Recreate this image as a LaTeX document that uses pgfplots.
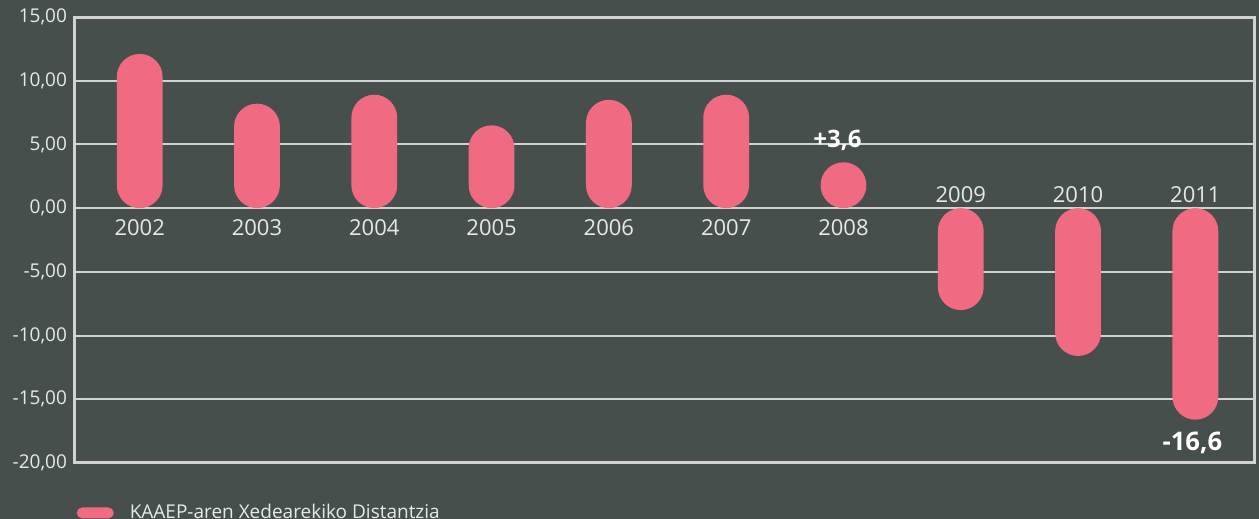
\documentclass[border=0pt]{standalone}
\usepackage{fontspec}
\setmainfont{Open Sans}
\usepackage{pgfplots}
\pgfplotsset{compat=1.18}
\definecolor{bgcol}{HTML}{474F4C}
\definecolor{barcol}{HTML}{F06B82}
\definecolor{gridcol}{HTML}{D2D2D2}
\definecolor{txtcol}{HTML}{E8E8E8}

\begin{document}
\begin{tikzpicture}
\fill[bgcol] (-37pt,-28pt) rectangle (592.5pt,231.5pt);
\useasboundingbox (-37pt,-28pt) rectangle (592.5pt,231.5pt);
\begin{axis}[
    at={(0,0)}, anchor=south west,
    scale only axis,
    width=590pt, height=223pt,
    xmin=2001.44, xmax=2011.5,
    ymin=-20, ymax=15,
    ytick={-20,-15,-10,-5,0,5,10,15},
    xtick=\empty,
    ymajorgrids=true,
    grid style={gridcol, line width=1pt},
    axis line style={gridcol, line width=1.5pt},
    major tick length=0pt,
    yticklabel style={text=txtcol, font=\fontsize{9.5}{11}\selectfont,
        /pgf/number format/.cd, fixed, fixed zerofill, precision=2, use comma,
        assume math mode=true},
    legend style={at={(axis description cs:0.002,-0.112)}, anchor=west,
        draw=none, fill=none, text=txtcol, font=\fontsize{9.5}{11}\selectfont,
        inner sep=0pt,
        /tikz/every odd column/.append style={column sep=6pt}},
    legend cell align=left,
]
\addplot[ybar, bar width=22.9pt, bar shift=0pt, fill=barcol, draw=none,
    rounded corners=11.45pt,
    legend image code/.code={\fill[barcol, rounded corners=2.75pt] (0pt,-2.75pt) rectangle (18.5pt,2.75pt);}]
coordinates {
    (2002, 12.1)
    (2003, 8.2)
    (2004, 8.9)
    (2005, 6.5)
    (2006, 8.5)
    (2007, 8.9)
    (2008, 3.6)
    (2009, -8.0)
    (2010, -11.6)
    (2011, -16.6)
};
\addlegendentry{KAAEP-aren Xedearekiko Distantzia}

\pgfplotsinvokeforeach{2002,2003,2004,2005,2006,2007,2008}{
    \node[text=txtcol, anchor=base, font=\fontsize{11}{13}\selectfont, yshift=-13.5pt] at (axis cs:#1,0) {#1};
}
\pgfplotsinvokeforeach{2009,2010,2011}{
    \node[text=txtcol, anchor=base, font=\fontsize{11}{13}\selectfont, yshift=3pt] at (axis cs:#1,0) {#1};
}
\node[text=white, anchor=base, font=\fontsize{12}{14}\selectfont\bfseries, xshift=-3pt, yshift=30.5pt] at (axis cs:2008,0) {+3,6};
\node[text=white, anchor=base, font=\fontsize{12.8}{15}\selectfont\bfseries, xshift=-1.5pt, yshift=-15.5pt] at (axis cs:2011,-16.6) {-16,6};
\end{axis}
\end{tikzpicture}
\end{document}
